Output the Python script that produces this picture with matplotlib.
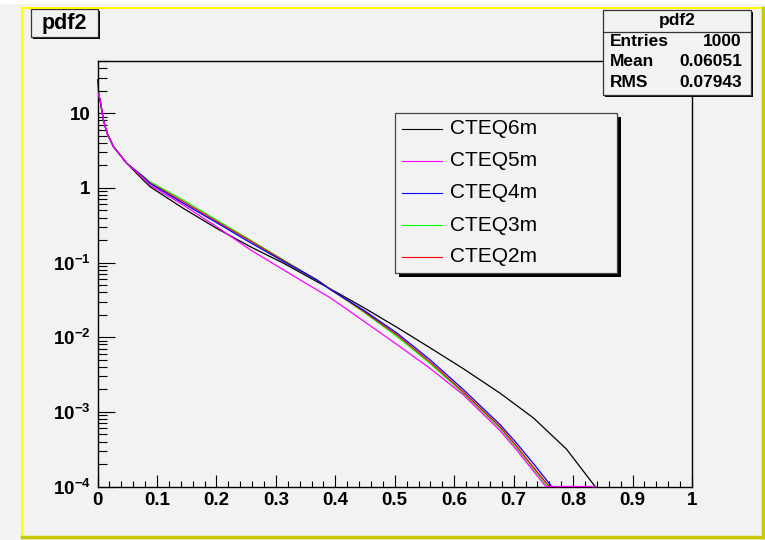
import matplotlib
matplotlib.use('Agg')
import matplotlib.pyplot as plt
from matplotlib.patches import Rectangle
from matplotlib.lines import Line2D
from matplotlib.ticker import FixedLocator, NullFormatter

plt.rcParams['font.family'] = ['Liberation Sans', 'DejaVu Sans']
plt.rcParams['mathtext.fontset'] = 'custom'
plt.rcParams['mathtext.rm'] = 'Liberation Sans:bold'
plt.rcParams['mathtext.bf'] = 'Liberation Sans:bold'

W, H = 765, 540

# values (x, pdf value) per set
x_early = [0.002, 0.005, 0.01, 0.016, 0.027, 0.049]
y_early = [18.0, 14.0, 8.1, 5.4, 3.55, 2.14]

x_mid = [0.077, 0.088, 0.144, 0.2, 0.257, 0.313, 0.369, 0.391, 0.447, 0.504, 0.559, 0.615, 0.677]

cteq6m_x = [0.0005] + x_early + x_mid + [0.733, 0.789, 0.837]
cteq6m_y = [28.0] + y_early + [1.27, 1.04, 0.533, 0.288, 0.163, 0.0977, 0.0555, 0.0447,
                               0.0251, 0.0135, 0.00724, 0.0038, 0.00178, 0.000832, 0.000316, 0.0001]

cteq5m_x = x_early + x_mid + [0.705, 0.733, 0.754, 0.837]
cteq5m_y = y_early + [1.36, 1.09, 0.59, 0.303, 0.148, 0.0796, 0.043, 0.0339,
                      0.0166, 0.00794, 0.00384, 0.0017, 0.000562, 0.000309, 0.000162, 0.0001, 0.0001]

cteq4m_x = x_early + x_mid + [0.705, 0.733, 0.764]
cteq4m_y = y_early + [1.40, 1.15, 0.622, 0.343, 0.185, 0.103, 0.0585, 0.0437,
                      0.0232, 0.0113, 0.00501, 0.002, 0.000676, 0.00038, 0.000204, 0.0001]

cteq3m_x = x_early + x_mid + [0.705, 0.733, 0.757]
cteq3m_y = y_early + [1.43, 1.21, 0.689, 0.372, 0.2, 0.108, 0.0585, 0.0445,
                      0.0219, 0.0102, 0.00447, 0.00178, 0.000603, 0.000331, 0.000174, 0.0001]

cteq2m_x = x_early + x_mid + [0.705, 0.733, 0.760]
cteq2m_y = y_early + [1.41, 1.17, 0.655, 0.357, 0.195, 0.106, 0.0585, 0.0442,
                      0.0224, 0.0107, 0.00468, 0.00186, 0.000631, 0.000347, 0.000182, 0.0001]

labels = ['CTEQ6m', 'CTEQ5m', 'CTEQ4m', 'CTEQ3m', 'CTEQ2m']
colors = ['#000000', '#ff00ff', '#0000ff', '#00ff00', '#ff0000']

stats_title = 'pdf2'
stats_rows = [('Entries', '1000'), ('Mean', '0.06051'), ('RMS', '0.07943')]


def fx(x):
    return x / W


def fy(y):
    return 1 - y / H


fig = plt.figure(figsize=(W / 100, H / 100), dpi=100, facecolor='#f2f2f2')

# canvas border
fig.add_artist(Rectangle((0, fy(4)), 1, 1, transform=fig.transFigure, color='white', lw=0))
fig.add_artist(Line2D([fx(22), fx(22)], [fy(8), fy(537)], color='#ffff00', lw=1.5))
fig.add_artist(Line2D([fx(22), fx(763)], [fy(8), fy(8)], color='#ffff00', lw=1.5))
fig.add_artist(Line2D([fx(22), fx(763)], [fy(537), fy(537)], color='#c8c800', lw=2.5))
fig.add_artist(Line2D([fx(763), fx(763)], [fy(8), fy(537)], color='#c8c800', lw=2.5))

ax = fig.add_axes([fx(97.5), fy(486.5), fx(692 - 97.5), (486.5 - 61) / H])
ax.set_facecolor('#f2f2f2')

series = [(cteq6m_x, cteq6m_y), (cteq5m_x, cteq5m_y), (cteq4m_x, cteq4m_y),
          (cteq3m_x, cteq3m_y), (cteq2m_x, cteq2m_y)]
order = [0, 3, 4, 2, 1]
for i in order:
    xs, ys = series[i]
    ax.plot(xs, ys, color=colors[i], lw=0.9, clip_on=False, zorder=3 + order.index(i))

ax.set_yscale('log')
ax.set_xlim(0, 1)
ax.set_ylim(1e-4, 50)

ax.set_xticks([i / 10 for i in range(11)], ['0', '0.1', '0.2', '0.3', '0.4', '0.5', '0.6', '0.7', '0.8', '0.9', '1'])
ax.set_xticks([i / 50 for i in range(51)], minor=True)
ax.set_yticks([1e-4, 1e-3, 1e-2, 1e-1, 1, 10],
              [r'$\mathbf{10^{-4}}$', r'$\mathbf{10^{-3}}$', r'$\mathbf{10^{-2}}$', r'$\mathbf{10^{-1}}$', '1', '10'])
minor_y = [m * 10 ** e for e in range(-4, 2) for m in range(2, 10) if m * 10 ** e <= 50]
ax.yaxis.set_minor_locator(FixedLocator(minor_y))
ax.yaxis.set_minor_formatter(NullFormatter())

for lab in ax.get_xticklabels() + ax.get_yticklabels():
    lab.set_fontweight('bold')
    lab.set_fontsize(13.5)

ax.tick_params(axis='x', which='major', direction='in', length=9, width=0.8, pad=4, top=False)
ax.tick_params(axis='x', which='minor', direction='in', length=4.2, width=0.8, top=False)
ax.tick_params(axis='y', which='major', direction='in', length=12.5, width=0.8, pad=5, right=False)
ax.tick_params(axis='y', which='minor', direction='in', length=6.5, width=0.8, right=False)
for sp in ax.spines.values():
    sp.set_linewidth(1.0)
    sp.set_color('black')

# title box
fig.add_artist(Rectangle((fx(33), fy(39)), fx(98 - 31), (39 - 11) / H, transform=fig.transFigure,
                         facecolor='black', edgecolor='none'))
fig.add_artist(Rectangle((fx(31), fy(37)), fx(98 - 31), (37 - 9.5) / H, transform=fig.transFigure,
                         facecolor='#f2f2f2', edgecolor='#333333', lw=0.9))
fig.text(fx(64.5), fy(23.5), 'pdf2', fontsize=15.5, fontweight='bold', ha='center', va='center')

# stats box
fig.add_artist(Rectangle((fx(605), fy(97)), fx(751 - 603), (97 - 12) / H, transform=fig.transFigure,
                         facecolor='black', edgecolor='none'))
fig.add_artist(Rectangle((fx(603), fy(95)), fx(751 - 603), (95 - 10) / H, transform=fig.transFigure,
                         facecolor='#f2f2f2', edgecolor='#333333', lw=0.9))
fig.add_artist(Line2D([fx(603), fx(751)], [fy(32), fy(32)], color='#333333', lw=0.9))
fig.text(fx(677), fy(20.5), stats_title, fontsize=12.5, fontweight='bold', ha='center', va='center')
for k, (name, val) in enumerate(stats_rows):
    yy = 41.5 + k * 20.5
    fig.text(fx(610), fy(yy), name, fontsize=12.5, fontweight='bold', ha='left', va='center')
    fig.text(fx(742), fy(yy), val, fontsize=12.5, fontweight='bold', ha='right', va='center')

# legend
fig.add_artist(Rectangle((fx(399), fy(277)), fx(617 - 395), (273 - 113) / H, transform=fig.transFigure,
                         facecolor='black', edgecolor='none'))
fig.add_artist(Rectangle((fx(395), fy(273)), fx(617 - 395), (273 - 113) / H, transform=fig.transFigure,
                         facecolor='#f2f2f2', edgecolor='#444444', lw=0.9))
for k, (lab, col) in enumerate(zip(labels, colors)):
    yy = 129 + k * 32
    fig.add_artist(Line2D([fx(402), fx(442)], [fy(yy), fy(yy)], color=col, lw=0.8))
    fig.text(fx(450), fy(yy), lab, fontsize=15, ha='left', va='center')

fig.savefig('out.png', dpi=100, facecolor=fig.get_facecolor())
